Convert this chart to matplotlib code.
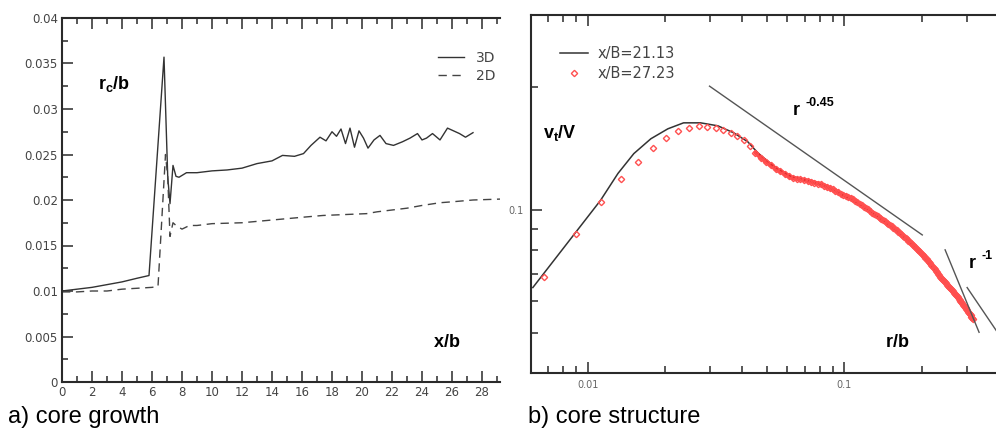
import matplotlib
matplotlib.use("Agg")
import matplotlib.pyplot as plt
from matplotlib.ticker import MultipleLocator, FixedLocator, FuncFormatter, NullFormatter, LogLocator

plt.rcParams['font.family'] = ['DejaVu Sans']
plt.rcParams['mathtext.fontset'] = 'custom'
plt.rcParams['mathtext.rm'] = 'Liberation Sans:bold'
plt.rcParams['mathtext.it'] = 'Liberation Sans:bold'
plt.rcParams['mathtext.bf'] = 'Liberation Sans:bold'

# ---- a) core growth: r_c/b against x/b ----
x_3d = [0, 1, 2, 3, 4, 5, 5.8, 6.8, 7.05, 7.2, 7.4, 7.6, 7.8, 8.3, 9, 10, 11, 12, 13, 14,
        14.7, 15.5, 16.1, 16.6, 17.2, 17.6, 18.0, 18.3, 18.6, 18.9, 19.2, 19.5, 19.8, 20.1,
        20.4, 20.8, 21.2, 21.6, 22.1, 22.7, 23.2, 23.7, 24.0, 24.3, 24.7, 25.2, 25.7, 26.1,
        26.5, 26.9, 27.4]
rc_3d = [0.0100, 0.0102, 0.0104, 0.0107, 0.0110, 0.0114, 0.0117, 0.0357, 0.0225, 0.0196,
         0.0238, 0.0226, 0.0225, 0.0230, 0.0230, 0.0232, 0.0233, 0.0235, 0.0240, 0.0243,
         0.0249, 0.0248, 0.0251, 0.0260, 0.0269, 0.0265, 0.0275, 0.0270, 0.0278, 0.0262,
         0.0279, 0.0258, 0.0276, 0.0268, 0.0257, 0.0266, 0.0271, 0.0262, 0.0260, 0.0264,
         0.0268, 0.0273, 0.0266, 0.0268, 0.0273, 0.0266, 0.0279, 0.0276, 0.0273, 0.0269,
         0.0274]
x_2d = [0, 1, 2, 3, 4, 5, 6, 6.4, 6.9, 7.05, 7.2, 7.4, 7.6, 8.0, 8.5, 9, 10, 12, 14, 16,
        17.4, 20.3, 21, 22, 23, 24, 25.2, 26, 27.4, 29.2]
rc_2d = [0.0099, 0.0099, 0.0100, 0.0100, 0.0102, 0.0103, 0.0104, 0.0105, 0.0250, 0.0225,
         0.0160, 0.0175, 0.0172, 0.0168, 0.0172, 0.0172, 0.0174, 0.0175, 0.0178, 0.0181,
         0.0183, 0.0185, 0.0187, 0.0189, 0.0191, 0.0194, 0.0197, 0.0198, 0.0200, 0.0201]

# ---- b) core structure: v_t/V against r/b ----
r_2113 = [0.0061, 0.0112, 0.0131, 0.0151, 0.0176, 0.0205, 0.0236, 0.0275, 0.0321, 0.0370,
          0.0420, 0.0460, 0.053, 0.062, 0.072, 0.083, 0.096, 0.130, 0.176, 0.236, 0.318]
v_2113 = [0.0647, 0.1057, 0.1230, 0.1375, 0.1495, 0.1581, 0.1635, 0.1635, 0.1608, 0.1546,
          0.1470, 0.1380, 0.128, 0.121, 0.118, 0.115, 0.110, 0.098, 0.0846, 0.0688, 0.054]

r_2723 = [0.00674, 0.00899, 0.01124, 0.01349, 0.01574, 0.01799, 0.02024, 0.02249, 0.02474,
          0.02699, 0.02924, 0.03149, 0.03374, 0.03599, 0.03824, 0.04049,
          0.0427, 0.0450, 0.0472, 0.0495, 0.0517, 0.0540, 0.0562, 0.0585, 0.0607, 0.0629,
          0.0652, 0.0674, 0.0697, 0.0719, 0.0742, 0.0764, 0.0787, 0.0809, 0.0832, 0.0854,
          0.0877, 0.0899, 0.0922, 0.0944, 0.0967, 0.0989, 0.1012, 0.1034, 0.1057, 0.1079,
          0.1102, 0.1124, 0.1147, 0.1169, 0.1192, 0.1214, 0.1237, 0.1259, 0.1282, 0.1304,
          0.1327, 0.1349, 0.1372, 0.1394, 0.1417, 0.1439, 0.1462, 0.1484, 0.1507, 0.1529,
          0.1552, 0.1574, 0.1597, 0.1619, 0.1642, 0.1664, 0.1687, 0.1709, 0.1732, 0.1754,
          0.1777, 0.1799, 0.1822, 0.1844, 0.1867, 0.1889, 0.1912, 0.1934, 0.1957, 0.1979,
          0.2002, 0.2024, 0.2047, 0.2069, 0.2092, 0.2114, 0.2137, 0.2159, 0.2182, 0.2204,
          0.2227, 0.2249, 0.2272, 0.2294, 0.2317, 0.2339, 0.2362, 0.2384, 0.2407, 0.2429,
          0.2452, 0.2474, 0.2497, 0.2519, 0.2542, 0.2564, 0.2587, 0.2609, 0.2632, 0.2654,
          0.2677, 0.2699, 0.2722, 0.2744, 0.2767, 0.2789, 0.2812, 0.2834, 0.2857, 0.2879,
          0.2902, 0.2924, 0.2947, 0.2969, 0.2992, 0.3014, 0.3037, 0.3059, 0.3082, 0.3104,
          0.3127, 0.3149, 0.3172]
v_2723 = [0.0688, 0.0874, 0.1046, 0.1189, 0.1315, 0.1422, 0.1504, 0.1564, 0.1590,
          0.1608, 0.1599, 0.1590, 0.1573, 0.1546, 0.1521, 0.1487,
          0.1436, 0.1383, 0.1345, 0.1315, 0.1287, 0.1262, 0.1245, 0.1227, 0.1210, 0.1198,
          0.1194, 0.1189, 0.1185, 0.1180, 0.1174, 0.1168, 0.1162, 0.1157, 0.1149, 0.1141,
          0.1132, 0.1124, 0.1115, 0.1106, 0.1098, 0.1091, 0.1084, 0.1078, 0.1071, 0.1063,
          0.1054, 0.1046, 0.1037, 0.1029, 0.1020, 0.1012, 0.1004, 0.0995, 0.0987, 0.0979,
          0.0972, 0.0966, 0.0959, 0.0953, 0.0946, 0.0940, 0.0933, 0.0927, 0.0920, 0.0913,
          0.0907, 0.0900, 0.0894, 0.0887, 0.0881, 0.0874, 0.0867, 0.0861, 0.0854, 0.0848,
          0.0842, 0.0836, 0.0830, 0.0824, 0.0818, 0.0812, 0.0806, 0.0800, 0.0794, 0.0789,
          0.0783, 0.0777, 0.0771, 0.0765, 0.0759, 0.0753, 0.0747, 0.0741, 0.0735, 0.0729,
          0.0723, 0.0717, 0.0711, 0.0705, 0.0699, 0.0694, 0.0688, 0.0684, 0.0679, 0.0675,
          0.0671, 0.0667, 0.0663, 0.0658, 0.0654, 0.0650, 0.0646, 0.0642, 0.0637, 0.0633,
          0.0629, 0.0625, 0.0621, 0.0616, 0.0612, 0.0608, 0.0604, 0.0600, 0.0596, 0.0592,
          0.0588, 0.0584, 0.0580, 0.0576, 0.0573, 0.0569, 0.0565, 0.0561, 0.0557, 0.0553,
          0.0549, 0.0545, 0.0541]

# slope guide lines
r_045 = [0.0298, 0.2012]
v_045 = [0.201, 0.087]
r_m1a = [0.247, 0.335]
v_m1a = [0.080, 0.0503]
r_m1b = [0.301, 0.41]
v_m1b = [0.0647, 0.0486]

W, H = 996, 433
def fx(px):
    return px / W
def fy(py):
    return 1 - py / H

fig = plt.figure(figsize=(9.96, 4.33), dpi=100)
ax1 = fig.add_axes([fx(62), fy(382), (500 - 62) / W, (382 - 18) / H])
ax2 = fig.add_axes([fx(531), fy(373), (996 - 531) / W, (373 - 15) / H])

ink = '#2a2a2a'
lab = '#444444'

# ---- panel a ----
ax1.plot(x_3d, rc_3d, color='#333333', lw=1.0, label='3D')
ax1.plot(x_2d, rc_2d, color='#444444', lw=1.0, ls=(0, (6, 4)), label='2D')
ax1.set_xlim(0, 29.2)
ax1.set_ylim(0, 0.04)
ax1.xaxis.set_major_locator(MultipleLocator(2))
ax1.xaxis.set_minor_locator(MultipleLocator(1))
ax1.yaxis.set_major_locator(MultipleLocator(0.005))
ax1.yaxis.set_minor_locator(MultipleLocator(0.0025))
ax1.yaxis.set_major_formatter(FuncFormatter(lambda v, p: f'{v:g}'))
ax1.xaxis.set_major_formatter(FuncFormatter(lambda v, p: f'{v:g}'))
ax1.spines['right'].set_visible(False)
for s in ['left', 'top', 'bottom']:
    ax1.spines[s].set_linewidth(1.5)
    ax1.spines[s].set_color(ink)
ax1.tick_params(which='both', direction='in', top=True, right=False, color=ink, width=1.1,
                labelsize=8.5, labelcolor=lab, pad=3)
ax1.tick_params(which='major', length=8)
ax1.tick_params(which='minor', length=4.5)
ax1.legend(loc='upper right', bbox_to_anchor=(1.003, 0.925), borderaxespad=0,
           frameon=False, fontsize=10, handlelength=1.9, handletextpad=0.85,
           labelspacing=0.3, labelcolor=lab)

fig.text(fx(98), fy(89), r'$\mathbf{r_c/b}$', fontsize=13, ha='left', va='baseline')
fig.text(fx(433), fy(347), r'$\mathbf{x/b}$', fontsize=13, ha='left', va='baseline')

# ---- panel b ----
ax2.set_xscale('log')
ax2.set_yscale('log')
ax2.plot(r_2113, v_2113, color='#333333', lw=1.1, label='x/B=21.13')
# the dense tail of the 27.23 profile merges into a solid red band
ax2.plot(r_2723[17:], v_2723[17:], color='#ff2a2a', lw=3.2, alpha=0.85,
         solid_capstyle='round')
ax2.plot(r_2723, v_2723, ls='none', marker='D', markersize=3.2, markerfacecolor='none',
         markeredgecolor='#ff5050', markeredgewidth=1.0, label='x/B=27.23')
ax2.plot(r_045, v_045, color='#555555', lw=1.0)
ax2.plot(r_m1a, v_m1a, color='#555555', lw=1.0)
ax2.plot(r_m1b, v_m1b, color='#555555', lw=1.0)
ax2.set_xlim(0.006, 0.39)
ax2.set_ylim(0.04, 0.3)
ax2.xaxis.set_major_locator(FixedLocator([0.01, 0.1]))
ax2.xaxis.set_minor_locator(LogLocator(base=10, subs=[2, 3, 4, 5, 6, 7, 8, 9]))
ax2.yaxis.set_major_locator(FixedLocator([0.1]))
ax2.yaxis.set_minor_locator(LogLocator(base=10, subs=[2, 3, 4, 5, 6, 7, 8, 9]))
ax2.xaxis.set_major_formatter(FuncFormatter(lambda v, p: f'{v:g}'))
ax2.yaxis.set_major_formatter(FuncFormatter(lambda v, p: f'{v:g}'))
ax2.xaxis.set_minor_formatter(NullFormatter())
ax2.yaxis.set_minor_formatter(NullFormatter())
ax2.spines['right'].set_visible(False)
for s in ['left', 'top', 'bottom']:
    ax2.spines[s].set_linewidth(1.5)
    ax2.spines[s].set_color(ink)
ax2.tick_params(which='both', direction='in', top=True, right=False, color=ink, width=1.1,
                labelsize=7, labelcolor='#666666', pad=5)
ax2.tick_params(which='major', length=8)
ax2.tick_params(which='minor', length=5)
ax2.legend(loc='upper left', bbox_to_anchor=(0.0495, 0.929), borderaxespad=0,
           frameon=False, fontsize=10.5, handlelength=1.95, handletextpad=0.62,
           labelspacing=0.32, numpoints=1, labelcolor=lab)

fig.text(fx(543), fy(138), r'$\mathbf{v_t/V}$', fontsize=13, ha='left', va='baseline')
# power-law labels: base letter plus raised exponent
fig.text(fx(793), fy(115), 'r', fontsize=13, weight='bold', family='Liberation Sans',
         ha='left', va='baseline')
fig.text(fx(806), fy(106), '-0.45', fontsize=9, weight='bold', family='Liberation Sans',
         ha='left', va='baseline')
fig.text(fx(969), fy(268), 'r', fontsize=13, weight='bold', family='Liberation Sans',
         ha='left', va='baseline')
fig.text(fx(981), fy(259), '-1', fontsize=9, weight='bold', family='Liberation Sans',
         ha='left', va='baseline')
fig.text(fx(885), fy(347), r'$\mathbf{r/b}$', fontsize=13, ha='left', va='baseline')

# captions
fig.text(fx(8), fy(423), 'a) core growth', fontsize=17, family='Liberation Sans',
         ha='left', va='baseline')
fig.text(fx(528), fy(423), 'b) core structure', fontsize=17, family='Liberation Sans',
         ha='left', va='baseline')

fig.savefig('out.png', dpi=100)
